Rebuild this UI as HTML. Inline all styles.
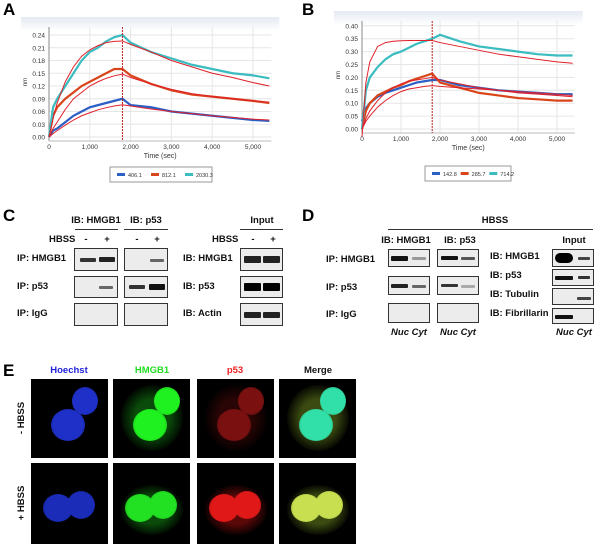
<!DOCTYPE html>
<html><head><meta charset="utf-8">
<style>
body{margin:0;background:#fff;}
#root{position:relative;width:600px;height:544px;overflow:hidden;font-family:"Liberation Sans",Arial,sans-serif;}
.t{position:absolute;font-weight:bold;font-size:9.5px;line-height:10px;color:#111;white-space:nowrap;}
.c{transform:translateX(-50%);}
.L{position:absolute;font-weight:bold;font-size:17px;color:#000;}
.box{position:absolute;border:1px solid #333;background:#ececec;box-sizing:border-box;}
.band{position:absolute;height:2px;border-radius:1px;}
.hl{position:absolute;height:1px;background:#333;}
.img{position:absolute;background:#000;overflow:hidden;}
.cell{position:absolute;border-radius:50%;}
</style></head><body>
<div id="root">
<div class="L" style="left:3px;top:0px">A</div>
<div class="L" style="left:302px;top:0px">B</div>
<svg id="chartA" style="position:absolute;left:0;top:0" width="300" height="200"></svg>
<svg id="chartB" style="position:absolute;left:300px;top:0" width="300" height="200"></svg>

<!-- Panel C -->
<div class="L" style="left:3px;top:206px">C</div>
<div class="t c" style="left:96px;top:216px">IB: HMGB1</div>
<div class="hl" style="left:75px;top:229px;width:43px"></div>
<div class="t c" style="left:146px;top:216px">IB: p53</div>
<div class="hl" style="left:124px;top:229px;width:44px"></div>
<div class="t c" style="left:262px;top:216px">Input</div>
<div class="hl" style="left:240px;top:229px;width:43px"></div>
<div class="t" style="left:49px;top:235px">HBSS</div>
<div class="t c" style="left:86px;top:235px">-</div><div class="t c" style="left:107px;top:235px">+</div>
<div class="t c" style="left:137px;top:235px">-</div><div class="t c" style="left:157px;top:235px">+</div>
<div class="t" style="left:212px;top:235px">HBSS</div>
<div class="t c" style="left:253px;top:235px">-</div><div class="t c" style="left:273px;top:235px">+</div>
<div class="t" style="left:17px;top:254px">IP: HMGB1</div>
<div class="t" style="left:17px;top:282px">IP: p53</div>
<div class="t" style="left:17px;top:309px">IP: IgG</div>
<div class="t" style="left:183px;top:254px">IB: HMGB1</div>
<div class="t" style="left:183px;top:282px">IB: p53</div>
<div class="t" style="left:183px;top:309px">IB: Actin</div>
<div class="box" style="left:74px;top:248px;width:44px;height:23px"><div class="band" style="left:5px;top:9px;width:16px;background:#333;height:4px"></div><div class="band" style="left:24px;top:8px;width:16px;background:#222;height:5px"></div></div>
<div class="box" style="left:124px;top:248px;width:44px;height:23px"><div class="band" style="left:25px;top:10px;width:14px;background:#666;height:3px"></div></div>
<div class="box" style="left:74px;top:276px;width:44px;height:22px"><div class="band" style="left:24px;top:9px;width:14px;background:#666;height:3px"></div></div>
<div class="box" style="left:124px;top:276px;width:44px;height:22px"><div class="band" style="left:4px;top:8px;width:16px;background:#333;height:4px"></div><div class="band" style="left:24px;top:7px;width:16px;background:#111;height:6px"></div></div>
<div class="box" style="left:74px;top:303px;width:44px;height:23px"></div>
<div class="box" style="left:124px;top:303px;width:44px;height:23px"></div>
<div class="box" style="left:240px;top:248px;width:43px;height:23px"><div class="band" style="left:3px;top:7px;width:17px;background:#222;height:7px"></div><div class="band" style="left:22px;top:7px;width:17px;background:#222;height:7px"></div></div>
<div class="box" style="left:240px;top:276px;width:43px;height:22px"><div class="band" style="left:3px;top:6px;width:17px;background:#000;height:8px"></div><div class="band" style="left:22px;top:6px;width:17px;background:#000;height:8px"></div></div>
<div class="box" style="left:240px;top:303px;width:43px;height:23px"><div class="band" style="left:3px;top:8px;width:17px;background:#222;height:6px"></div><div class="band" style="left:22px;top:8px;width:17px;background:#222;height:6px"></div></div>

<!-- Panel D -->
<div class="L" style="left:302px;top:206px">D</div>
<div class="t c" style="left:495px;top:216px">HBSS</div>
<div class="hl" style="left:388px;top:229px;width:205px"></div>
<div class="t c" style="left:406px;top:236px">IB: HMGB1</div>
<div class="t c" style="left:460px;top:236px">IB: p53</div>
<div class="t c" style="left:574px;top:236px">Input</div>
<div class="t" style="left:326px;top:255px">IP: HMGB1</div>
<div class="t" style="left:326px;top:283px">IP: p53</div>
<div class="t" style="left:326px;top:310px">IP: IgG</div>
<div class="t" style="left:490px;top:252px">IB: HMGB1</div>
<div class="t" style="left:490px;top:271px">IB: p53</div>
<div class="t" style="left:490px;top:290px">IB: Tubulin</div>
<div class="t" style="left:490px;top:309px">IB: Fibrillarin</div>
<div class="box" style="left:388px;top:249px;width:42px;height:18px"><div class="band" style="left:2px;top:6px;width:17px;background:#111;height:5px"></div><div class="band" style="left:23px;top:7px;width:14px;background:#999;height:3px"></div></div>
<div class="box" style="left:437px;top:249px;width:42px;height:18px"><div class="band" style="left:3px;top:6px;width:17px;background:#111;height:4px"></div><div class="band" style="left:23px;top:7px;width:14px;background:#555;height:3px"></div></div>
<div class="box" style="left:388px;top:276px;width:42px;height:19px"><div class="band" style="left:2px;top:7px;width:17px;background:#222;height:4px"></div><div class="band" style="left:23px;top:8px;width:14px;background:#666;height:3px"></div></div>
<div class="box" style="left:437px;top:276px;width:42px;height:19px"><div class="band" style="left:3px;top:7px;width:17px;background:#333;height:3px"></div><div class="band" style="left:23px;top:8px;width:14px;background:#aaa;height:3px"></div></div>
<div class="box" style="left:388px;top:303px;width:42px;height:20px"></div>
<div class="box" style="left:437px;top:303px;width:42px;height:20px"></div>
<div class="box" style="left:552px;top:249px;width:42px;height:18px"><div class="band" style="left:2px;top:3px;width:18px;background:#000;height:10px;border-radius:5px"></div><div class="band" style="left:25px;top:7px;width:12px;background:#444;height:3px"></div></div>
<div class="box" style="left:552px;top:269px;width:42px;height:17px"><div class="band" style="left:2px;top:6px;width:18px;background:#111;height:4px"></div><div class="band" style="left:25px;top:6px;width:12px;background:#333;height:3px"></div></div>
<div class="box" style="left:552px;top:288px;width:42px;height:17px"><div class="band" style="left:24px;top:8px;width:14px;background:#444;height:3px"></div></div>
<div class="box" style="left:552px;top:308px;width:42px;height:16px"><div class="band" style="left:2px;top:6px;width:18px;background:#111;height:4px"></div></div>
<div class="t c" style="left:409px;top:328px;font-style:italic">Nuc Cyt</div>
<div class="t c" style="left:458px;top:328px;font-style:italic">Nuc Cyt</div>
<div class="t c" style="left:574px;top:328px;font-style:italic">Nuc Cyt</div>

<!-- Panel E -->
<div class="L" style="left:3px;top:361px">E</div>
<div class="t c" style="left:69px;top:366px;color:#2222dd">Hoechst</div>
<div class="t c" style="left:152px;top:366px;color:#22dd22">HMGB1</div>
<div class="t c" style="left:235px;top:366px;color:#ee2222">p53</div>
<div class="t c" style="left:318px;top:366px">Merge</div>
<div class="t" style="left:0px;top:413px;width:44px;text-align:center;transform:rotate(-90deg)">- HBSS</div>
<div class="t" style="left:0px;top:498px;width:44px;text-align:center;transform:rotate(-90deg)">+ HBSS</div>
<div id="micro"></div>
</div>
<script>
// ---- Chart data ----
const timesA = [0,100,200,400,600,800,1000,1200,1400,1600,1800,2000,2500,3000,3500,4000,4500,5000,5400];
const a_cyan = [0,0.07,0.09,0.12,0.15,0.18,0.2,0.21,0.225,0.235,0.24,0.222,0.2,0.185,0.17,0.16,0.15,0.145,0.138];
const a_orange = [0,0.05,0.07,0.09,0.105,0.12,0.13,0.14,0.15,0.16,0.16,0.145,0.125,0.11,0.1,0.095,0.09,0.085,0.08];
const a_blue = [0,0.015,0.02,0.035,0.05,0.06,0.07,0.075,0.08,0.085,0.09,0.075,0.07,0.06,0.055,0.05,0.045,0.04,0.038];
const a_fit1 = [0,0.045,0.08,0.13,0.165,0.19,0.205,0.215,0.222,0.225,0.226,0.218,0.2,0.18,0.165,0.15,0.14,0.128,0.12];
const a_fit2 = [0,0.02,0.035,0.065,0.09,0.105,0.12,0.13,0.138,0.144,0.148,0.14,0.125,0.112,0.102,0.095,0.09,0.085,0.082];
const a_fit3 = [0,0.008,0.015,0.028,0.04,0.05,0.057,0.064,0.069,0.073,0.076,0.073,0.066,0.06,0.055,0.05,0.046,0.042,0.04];
const a_ticks = ["0.00","0.03","0.06","0.09","0.12","0.15","0.18","0.21","0.24"];
const a_legend = ["406.1","812.1","2030.3"];
const b_cyan = [0,0.15,0.2,0.24,0.27,0.29,0.3,0.315,0.33,0.34,0.35,0.365,0.34,0.32,0.31,0.3,0.29,0.285,0.285];
const b_orange = [0,0.07,0.1,0.13,0.145,0.16,0.17,0.185,0.195,0.205,0.215,0.18,0.16,0.14,0.13,0.12,0.115,0.11,0.11];
const b_blue = [0.03,0.08,0.1,0.125,0.14,0.15,0.16,0.17,0.18,0.185,0.19,0.19,0.17,0.16,0.15,0.145,0.14,0.135,0.135];
const b_fit1 = [-0.03,0.18,0.26,0.32,0.335,0.34,0.342,0.343,0.343,0.343,0.343,0.335,0.32,0.305,0.29,0.28,0.27,0.26,0.255];
const b_fit2 = [0,0.04,0.07,0.11,0.14,0.16,0.175,0.185,0.19,0.195,0.2,0.19,0.175,0.16,0.15,0.14,0.135,0.13,0.125];
const b_fit3 = [0,0.03,0.05,0.085,0.11,0.13,0.145,0.155,0.16,0.165,0.168,0.165,0.16,0.155,0.15,0.145,0.14,0.135,0.13];
const b_ticks = ["0.00","0.05","0.10","0.15","0.20","0.25","0.30","0.35","0.40"];
const b_legend = ["142.8","285.7","714.2"];
const x_ticks = [0,1000,2000,3000,4000,5000];
const x_labels = ["0","1,000","2,000","3,000","4,000","5,000"];

const NS="http://www.w3.org/2000/svg";
function mk(svg,tag,at){const e=document.createElementNS(NS,tag);for(const k in at)e.setAttribute(k,at[k]);svg.appendChild(e);return e;}
function chart(id,g,ticks,step,series,fits,legend){
  const svg=document.getElementById(id);
  const xs=v=>g.x0+v*g.kx, ys=v=>g.y0-v/step*g.ky;
  const right=xs(5400)+2, top=g.top;
  const grd=mk(svg,'linearGradient',{id:id+'g',x1:0,y1:0,x2:0,y2:1});
  mk(grd,'stop',{offset:0,'stop-color':'#e4e9f2'});mk(grd,'stop',{offset:1,'stop-color':'#ffffff'});
  mk(svg,'rect',{x:g.x0-28,y:top-10,width:right-g.x0+36,height:14,fill:'url(#'+id+'g)'});
  ticks.forEach((t,i)=>{const y=ys(i*step);
    mk(svg,'line',{x1:g.x0,x2:right,y1:y,y2:y,stroke:'#e6e6e6','stroke-width':1});
    const tx=mk(svg,'text',{x:g.x0-4,y:y+2.5,'font-size':6.5,'text-anchor':'end',fill:'#333','font-family':'Liberation Sans'});tx.textContent=t;});
  x_ticks.forEach((v,i)=>{const x=xs(v);
    mk(svg,'line',{x1:x,x2:x,y1:top,y2:g.y0+4,stroke:'#e6e6e6'});
    const tx=mk(svg,'text',{x:x,y:g.y0+12,'font-size':6.5,'text-anchor':'middle',fill:'#333','font-family':'Liberation Sans'});tx.textContent=x_labels[i];});
  mk(svg,'line',{x1:g.x0,x2:g.x0,y1:top,y2:g.y0+4,stroke:'#888'});
  mk(svg,'line',{x1:g.x0,x2:right,y1:g.y0+4,y2:g.y0+4,stroke:'#bbb'});
  const tl=mk(svg,'text',{x:(g.x0+right)/2,y:g.y0+21,'font-size':7,'text-anchor':'middle',fill:'#333','font-family':'Liberation Sans'});tl.textContent='Time (sec)';
  const yl=mk(svg,'text',{x:0,y:0,'font-size':6,'text-anchor':'middle',fill:'#333',transform:`translate(${g.x0-22},${(top+g.y0)/2}) rotate(-90)`});yl.textContent='nm';
  const cols=['#2b5fc4','#d9451a','#3bbcc0'];
  series.forEach((s,i)=>{const p=mk(svg,'polyline',{points:s.map((v,j)=>xs(timesA[j])+','+ys(v)).join(' '),fill:'none',stroke:cols[i],'stroke-width':2.2});
    
    });
  fits.forEach((s,i)=>{const p=mk(svg,'polyline',{points:s.map((v,j)=>xs(timesA[j])+','+ys(v)).join(' '),fill:'none',stroke:'#e0202a','stroke-width':1});
    
    });
  mk(svg,'line',{x1:xs(1800),x2:xs(1800),y1:top,y2:g.y0+4,stroke:'#c02020','stroke-dasharray':'2,1'});
  mk(svg,'rect',{x:g.lx,y:g.ly,width:g.lw,height:15,fill:'#fff',stroke:'#999'});
  legend.forEach((l,i)=>{const x=g.lx+7+i*g.lw/3;
    mk(svg,'rect',{x:x,y:g.ly+6,width:8,height:3,fill:cols[i]});
    const tx=mk(svg,'text',{x:x+11,y:g.ly+10,'font-size':5.5,fill:'#333'});tx.textContent=l;
    
    });
}
chart('chartA',{x0:49,kx:0.0408,y0:137,ky:12.75,top:27,lx:110,ly:167,lw:102},a_ticks,0.03,[a_blue,a_orange,a_cyan],[a_fit1,a_fit2,a_fit3],a_legend);
chart('chartB',{x0:62,kx:0.039,y0:129,ky:12.9,top:21,lx:125,ly:166,lw:86},b_ticks,0.05,[b_blue,b_orange,b_cyan],[b_fit1,b_fit2,b_fit3],b_legend);

// microscopy
const panelX=[31,113,197,279], rowY=[379,463];
const colors=[['#1f30c8','#1a2cb8'],['#1ff01f','#22e022'],['#7a1010','#e01818'],['#30e0a8','#c8e050']];
const cellsR=[[[37,46,17,16],[54,22,13,14]],[[27,45,15,14],[50,42,14,14]]];
const m=document.getElementById('micro');
panelX.forEach((x,ci)=>rowY.forEach((y,ri)=>{
  const d=document.createElement('div');d.className='img';
  d.style.cssText=`left:${x}px;top:${y}px;width:77px;height:${ri?81:79}px`;
  
  
  if(ci>0){const h=document.createElement('div');h.className='cell';
    const hc=ci==1?'#0a4a0a':ci==2?(ri?'#5a0808':'#2a0505'):'#3a4a10';
    h.style.cssText=`left:8px;top:${ri?22:6}px;width:62px;height:${ri?50:66}px;background:radial-gradient(ellipse,${hc} 40%,transparent 75%)`;
    d.appendChild(h);}
  cellsR[ri].forEach(c=>{const e=document.createElement('div');e.className='cell';
    const col=colors[ci][ri];
    e.style.cssText=`left:${c[0]-c[2]}px;top:${c[1]-c[3]}px;width:${2*c[2]}px;height:${2*c[3]}px;background:radial-gradient(circle,${col} 62%,${col}aa 85%,transparent 100%)`;
    d.appendChild(e);});
  m.appendChild(d);
}));
</script>
</body></html>
